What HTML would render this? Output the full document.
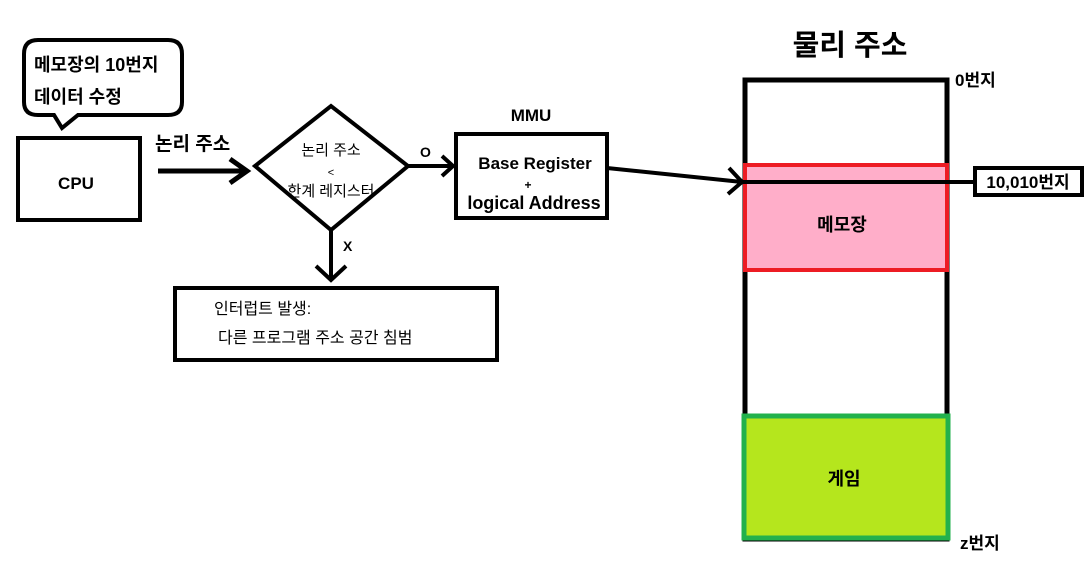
<!DOCTYPE html>
<html><head><meta charset="utf-8"><style>
body{margin:0;background:#fff}
svg text{font-family:"Liberation Sans","Noto Sans CJK KR",sans-serif;font-weight:bold;fill:#000}
</style></head><body>
<svg width="1085" height="580" viewBox="0 0 1085 580" xmlns="http://www.w3.org/2000/svg">
<path d="M38,40 H168 Q182,40 182,54 V102 Q182,115 168,115 H78 L62,128 L54,115 H38 Q24,115 24,102 V54 Q24,40 38,40 Z" fill="#fff" stroke="#000" stroke-width="4"/>
<text x="34" y="71" font-size="18">메모장의 10번지</text>
<text x="34" y="103" font-size="18">데이터 수정</text>
<rect x="18" y="138" width="122" height="82" fill="#fff" stroke="#000" stroke-width="4"/>
<text x="76" y="189" font-size="17" text-anchor="middle">CPU</text>
<text x="155" y="150" font-size="19">논리 주소</text>
<line x1="158" y1="171" x2="247" y2="171" stroke="#000" stroke-width="5"/>
<polyline points="230,159 247,171 230,183" fill="none" stroke="#000" stroke-width="5"/>
<polygon points="255,166 331,106 408,166 331,230" fill="#fff" stroke="#000" stroke-width="4"/>
<text x="331" y="155" font-size="15" text-anchor="middle" style="font-weight:normal">논리 주소</text>
<text x="331" y="176" font-size="11" text-anchor="middle" style="font-weight:normal">&lt;</text>
<text x="331" y="196" font-size="15" text-anchor="middle" style="font-weight:normal">한계 레지스터</text>
<text x="420" y="157" font-size="14">O</text>
<line x1="408" y1="166" x2="453" y2="166" stroke="#000" stroke-width="4"/>
<polyline points="442,156 453,166 442,176" fill="none" stroke="#000" stroke-width="4"/>
<text x="531" y="121" font-size="17" text-anchor="middle">MMU</text>
<rect x="456" y="134" width="151" height="84" fill="#fff" stroke="#000" stroke-width="4"/>
<text x="535" y="169" font-size="17" text-anchor="middle">Base Register</text>
<text x="528" y="189" font-size="12" text-anchor="middle">+</text>
<text x="534" y="209" font-size="18" text-anchor="middle">logical Address</text>
<line x1="331" y1="230" x2="331" y2="280" stroke="#000" stroke-width="4"/>
<polyline points="316,266 331,280 346,266" fill="none" stroke="#000" stroke-width="4"/>
<text x="343" y="251" font-size="14">X</text>
<rect x="175" y="288" width="322" height="72" fill="#fff" stroke="#000" stroke-width="4"/>
<text x="214" y="314" font-size="16" style="font-weight:normal">인터럽트 발생:</text>
<text x="218" y="343" font-size="16" style="font-weight:normal">다른 프로그램 주소 공간 침범</text>
<text x="850" y="55" font-size="29" text-anchor="middle">물리 주소</text>
<rect x="745" y="80" width="202" height="459" fill="#fff" stroke="#000" stroke-width="5"/>
<rect x="745" y="165" width="202" height="105" fill="#ffaec9" stroke="#ed1c24" stroke-width="4"/>
<text x="842" y="231" font-size="18" text-anchor="middle">메모장</text>
<rect x="744" y="416" width="204" height="122" fill="#b5e61d" stroke="#22b14c" stroke-width="5"/>
<text x="844" y="485" font-size="18" text-anchor="middle">게임</text>
<text x="955" y="86" font-size="17">0번지</text>
<text x="960" y="549" font-size="17">z번지</text>
<line x1="607" y1="168" x2="742" y2="182" stroke="#000" stroke-width="4"/>
<polyline points="729,168 742,182 728,194" fill="none" stroke="#000" stroke-width="4"/>
<line x1="742" y1="182" x2="975" y2="182" stroke="#000" stroke-width="4"/>
<rect x="975" y="168" width="107" height="27" fill="#fff" stroke="#000" stroke-width="4"/>
<text x="1028" y="188" font-size="17" text-anchor="middle">10,010번지</text>
</svg>
</body></html>
